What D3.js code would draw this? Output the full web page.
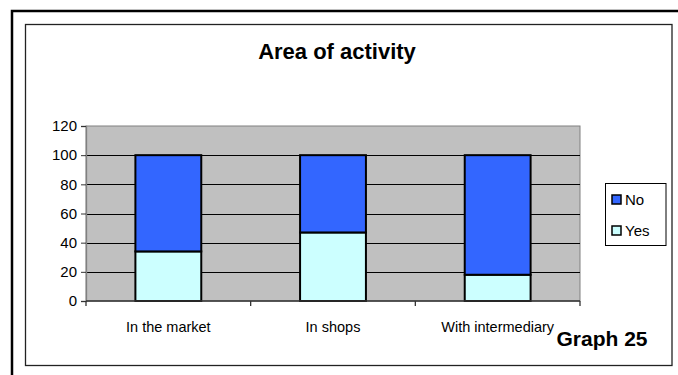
<!DOCTYPE html>
<html>
<head>
<meta charset="utf-8">
<script src="https://cdn.jsdelivr.net/npm/d3@7/dist/d3.min.js"></script>
<style>
  html, body { margin: 0; padding: 0; background: #fff; }
  svg { display: block; font-family: "Liberation Sans", Arial, sans-serif; }
</style>
</head>
<body>
<svg id="chart" width="678" height="375"></svg>
<script>
// Share of respondents by place of sale
const categories = ["In the market", "In shops", "With intermediary"];
const yesValues = [34, 47, 18];
const noValues = [66, 53, 82];
const seriesNames = ["No", "Yes"];
const yTicks = [0, 20, 40, 60, 80, 100, 120];

const svg = d3.select("#chart");

// Outer and inner frames
svg.append("path")
  .attr("d", "M12,375 V11 H678")
  .attr("fill", "none").attr("stroke", "#000").attr("stroke-width", 2.5);
svg.append("rect")
  .attr("x", 25.5).attr("y", 24.5).attr("width", 646.5).attr("height", 341)
  .attr("fill", "#fff").attr("stroke", "#222").attr("stroke-width", 1.3);

const plot = { left: 86, right: 580, top: 126, bottom: 301 };

const x = d3.scaleBand().domain(categories)
  .range([plot.left, plot.right]).paddingInner(0.6).paddingOuter(0.3);
const xOuter = d3.scaleBand().domain(categories).range([plot.left, plot.right]);
const y = d3.scaleLinear().domain([0, 120]).range([plot.bottom, plot.top]);

// Plot background
svg.append("rect")
  .attr("x", plot.left).attr("y", plot.top)
  .attr("width", plot.right - plot.left).attr("height", plot.bottom - plot.top)
  .attr("fill", "#c0c0c0").attr("stroke", "#808080").attr("stroke-width", 1);

// Gridlines
svg.append("g").selectAll("line")
  .data(yTicks.filter(d => d > 0 && d < 120))
  .join("line")
  .attr("x1", plot.left).attr("x2", plot.right)
  .attr("y1", d => Math.round(y(d)) + 0.5).attr("y2", d => Math.round(y(d)) + 0.5)
  .attr("stroke", "#000").attr("stroke-width", 1);

// Stacked bars
const stackData = categories.map((c, i) => ({ cat: c, Yes: yesValues[i], No: noValues[i] }));
const stack = d3.stack().keys(["Yes", "No"])(stackData);
const colors = { Yes: "#ccffff", No: "#3366ff" };

svg.append("g").selectAll("g")
  .data(stack).join("g")
  .attr("fill", d => colors[d.key])
  .selectAll("rect")
  .data(d => d).join("rect")
  .attr("x", d => x(d.data.cat))
  .attr("width", x.bandwidth())
  .attr("y", d => y(d[1]))
  .attr("height", d => y(d[0]) - y(d[1]))
  .attr("stroke", "#000").attr("stroke-width", 2);

// Y axis
const yAxis = svg.append("g")
  .attr("transform", `translate(${plot.left},0)`)
  .call(d3.axisLeft(y).tickValues(yTicks).tickSize(5).tickPadding(4));
yAxis.select(".domain").attr("stroke", "#808080").attr("stroke-width", 1.3);
yAxis.selectAll(".tick line").attr("stroke", "#333");
yAxis.selectAll("text").attr("font-size", 15).attr("fill", "#000")
  .attr("font-family", "Liberation Sans, Arial, sans-serif");

// X axis with ticks on category boundaries
const xg = svg.append("g").attr("transform", `translate(0,${plot.bottom})`);
xg.append("line")
  .attr("x1", plot.left).attr("x2", plot.right)
  .attr("stroke", "#333").attr("stroke-width", 1.3);
const boundaries = categories.map(c => xOuter(c)).concat([plot.right]);
xg.selectAll("line.tk").data(boundaries).join("line").attr("class", "tk")
  .attr("x1", d => d).attr("x2", d => d).attr("y1", 0).attr("y2", 5)
  .attr("stroke", "#333").attr("stroke-width", 1.3);
xg.selectAll("text").data(categories).join("text")
  .attr("x", d => xOuter(d) + xOuter.bandwidth() / 2)
  .attr("y", 31)
  .attr("text-anchor", "middle")
  .attr("font-size", 14.5)
  .text(d => d);

// Title
svg.append("text")
  .attr("x", 337).attr("y", 59)
  .attr("text-anchor", "middle")
  .attr("font-size", 22).attr("font-weight", "bold")
  .text("Area of activity");

// Legend
const lg = svg.append("g");
lg.append("rect")
  .attr("x", 605.5).attr("y", 183.5).attr("width", 60.5).attr("height", 62)
  .attr("fill", "#fff").attr("stroke", "#000").attr("stroke-width", 1);
const legendItems = lg.selectAll("g.item").data(seriesNames).join("g")
  .attr("class", "item")
  .attr("transform", (d, i) => `translate(0,${200 + i * 31})`);
legendItems.append("rect")
  .attr("x", 612).attr("y", -5).attr("width", 9).attr("height", 9)
  .attr("fill", d => colors[d]).attr("stroke", "#000").attr("stroke-width", 1.5);
legendItems.append("text")
  .attr("x", 625).attr("y", 5)
  .attr("font-size", 15)
  .text(d => d);

// Graph label
svg.append("text")
  .attr("x", 602).attr("y", 346)
  .attr("text-anchor", "middle")
  .attr("font-size", 21).attr("font-weight", "bold")
  .text("Graph 25");
</script>
</body>
</html>
